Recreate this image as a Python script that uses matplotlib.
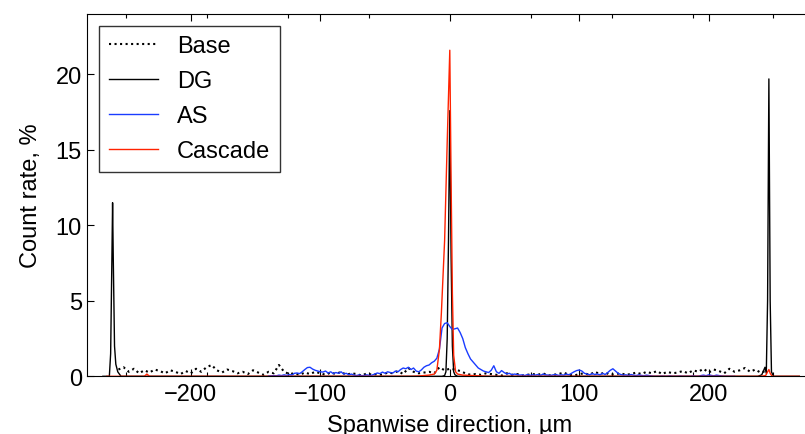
import numpy as np
import matplotlib
matplotlib.use('Agg')
import matplotlib.pyplot as plt
from matplotlib.ticker import MultipleLocator

# Base: dotted noise, 4 um bins
base_x = np.arange(-256, 248, 4)
base_y = [
    0.45, 0.6, 0.3, 0.5, 0.2, 0.4, 0.25, 0.45, 0.35, 0.2,
    0.4, 0.3, 0.15, 0.35, 0.2, 0.5, 0.3, 0.6, 0.75, 0.4,
    0.25, 0.45, 0.35, 0.2, 0.3, 0.15, 0.4, 0.25, 0.1, 0.3,
    0.2, 0.75, 0.3, 0.15, 0.2, 0.1, 0.25, 0.15, 0.3, 0.2,
    0.1, 0.25, 0.15, 0.3, 0.1, 0.2, 0.15, 0.05, 0.2, 0.1,
    0.15, 0.1, 0.25, 0.2, 0.35, 0.15, 0.55, 0.3, 0.2, 0.25,
    0.3, 0.2, 0.6, 0.4, 0.5, 0.45, 0.35, 0.2, 0.1, 0.15,
    0.1, 0.2, 0.15, 0.1, 0.05, 0.2, 0.1, 0.15, 0.05, 0.1,
    0.15, 0.1, 0.2, 0.05, 0.1, 0.15, 0.25, 0.1, 0.05, 0.15,
    0.2, 0.1, 0.3, 0.15, 0.25, 0.1, 0.15, 0.2, 0.1, 0.15,
    0.25, 0.15, 0.3, 0.2, 0.35, 0.15, 0.3, 0.2, 0.25, 0.35,
    0.2, 0.4, 0.3, 0.5, 0.25, 0.45, 0.35, 0.2, 0.5, 0.3,
    0.4, 0.55, 0.3, 0.45, 0.25, 0.35,
]

# DG: three sharp peaks
dg_x = [-268, -263, -262, -261, -260.5, -260, -259, -258, -256.5, -254,
        -6, -4, -3, -2, -1, 0, 1, 2, 3, 4, 6,
        238, 241, 242.5, 243.5, 244.5, 245.5, 246.5, 247.5, 248.5, 250, 270]
dg_y = [0, 0, 1.5, 8, 11.5, 8, 2, 0.8, 0.3, 0,
        0, 0.05, 0.3, 2.5, 9, 17.6, 8, 2, 0.3, 0.1, 0,
        0, 0.1, 0.4, 0.6, 0.2, 5, 19.7, 5, 0.3, 0, 0]

# AS: 2 um bins
as_x = np.arange(-140, 222, 2)
as_y = [
    0.02, 0.03, 0.05, 0.03, 0.08, 0.05, 0.1, 0.06, 0.12, 0.08, 0.2,
    0.22, 0.18, 0.3, 0.45, 0.58, 0.6, 0.48, 0.4, 0.35, 0.3,
    0.28, 0.35, 0.22, 0.3, 0.18, 0.25, 0.2, 0.3, 0.15, 0.2,
    0.1, 0.15, 0.08, 0.05, 0.1, 0.04, 0.06, 0.1, 0.05, 0.08,
    0.15, 0.22, 0.18, 0.28, 0.2, 0.3, 0.25, 0.22, 0.35, 0.3,
    0.45, 0.55, 0.5, 0.6, 0.45, 0.55, 0.35, 0.3, 0.42, 0.6,
    0.7, 0.75, 0.9, 1.0, 1.2, 1.8, 3.2, 3.5, 3.55, 3.3,
    3.1, 3.15, 3.2, 2.9, 2.5, 1.9, 1.5, 1.15, 0.95, 0.75,
    0.55, 0.45, 0.35, 0.3, 0.25, 0.4, 0.7, 0.3, 0.2, 0.38,
    0.25, 0.15, 0.2, 0.1, 0.15, 0.12, 0.08, 0.1, 0.05, 0.12,
    0.06, 0.1, 0.08, 0.12, 0.05, 0.15, 0.1, 0.08, 0.06, 0.1,
    0.12, 0.06, 0.1, 0.08, 0.15, 0.1, 0.2, 0.3, 0.38, 0.42,
    0.35, 0.2, 0.15, 0.1, 0.18, 0.12, 0.15, 0.1, 0.2, 0.12,
    0.25, 0.4, 0.5, 0.35, 0.2, 0.12, 0.08, 0.1, 0.06, 0.12,
    0.08, 0.05, 0.1, 0.06, 0.04, 0.08, 0.05, 0.02, 0.0, 0.0,
    0.0, 0.02, 0.0, 0.0, 0.03, 0.0, 0.0, 0.0, 0.02, 0.0,
    0.0, 0.0, 0.0, 0.03, 0.0, 0.0, 0.05, 0.08, 0.04, 0.1,
    0.06, 0.03, 0.08, 0.05, 0.02, 0.0, 0.0, 0.0, 0.0, 0.0,
]

# Cascade: single peak at the centre
cas_x = [-265, -236, -234, -232, -30, -24, -16, -12, -10, -8, -6.5, -4, -2, 0,
         1, 2, 3, 4.5, 6, 10, 20, 30, 240, 244, 245.5, 246.5, 247.5, 249, 270]
cas_y = [0, 0, 0.15, 0, 0, 0.02, 0.08, 0.15, 0.4, 1.8, 4.2, 9, 15.5, 21.6,
         13, 5.5, 1.4, 0.3, 0.15, 0.08, 0.04, 0, 0, 0.05, 0.3, 0.45, 0.2, 0, 0]

plt.rcParams['font.family'] = ['Liberation Sans', 'DejaVu Sans']
plt.rcParams['font.size'] = 17

fig = plt.figure(figsize=(8.05, 4.35), dpi=100)
ax = fig.add_axes([0.1085, 0.1326, 0.9005, 0.8329])

ax.plot(base_x, base_y, color='black', linestyle=':', linewidth=1.5, label='Base')
ax.plot(dg_x, dg_y, color='black', linewidth=1.0, label='DG')
ax.plot(as_x, as_y, color='#1a3cff', linewidth=1.0, label='AS')
ax.plot(cas_x, cas_y, color='#ff2200', linewidth=1.0, label='Cascade')

ax.set_xlim(-280, 280)
ax.set_ylim(0, 24)
ax.set_yticks([0, 5, 10, 15, 20])
ax.xaxis.set_major_locator(MultipleLocator(100))
ax.xaxis.set_minor_locator(MultipleLocator(62.5))
ax.tick_params(which='both', direction='in', top=True, right=True)
ax.tick_params(which='major', length=5, width=0.8)
ax.tick_params(which='minor', length=3, width=0.8)
ax.tick_params(axis='x', pad=5)
ax.tick_params(axis='y', pad=4)

ax.set_xlabel('Spanwise direction, µm', labelpad=6)
ax.set_ylabel('Count rate, %', labelpad=10)

leg = ax.legend(loc='upper left', handlelength=2.1, handletextpad=0.8,
                labelspacing=0.55, borderaxespad=0.5, fancybox=False)
leg.get_frame().set_edgecolor('black')
leg.get_frame().set_linewidth(1.0)

fig.savefig('out.png', dpi=100)
